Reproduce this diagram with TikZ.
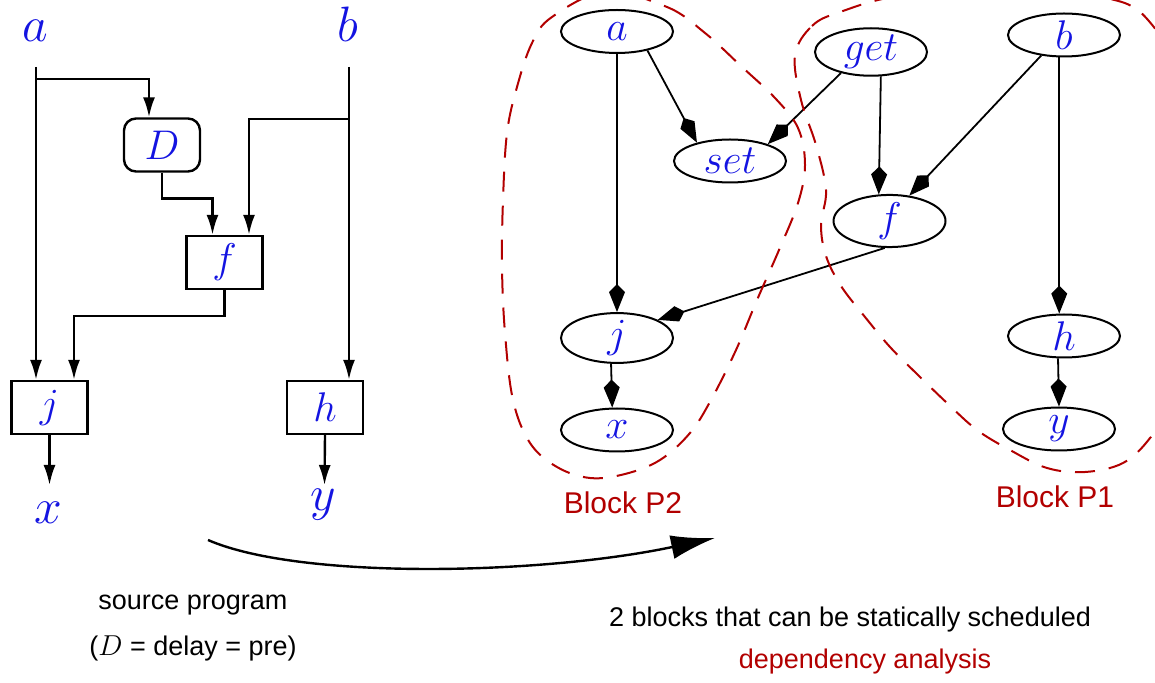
\documentclass[tikz,border=0pt]{standalone}
\usepackage{fontspec}
\newfontfamily\helv{Liberation Sans}
\usepackage{tikz}
\usetikzlibrary{arrows.meta, positioning, calc, shapes.geometric}
\definecolor{sigblue}{RGB}{20,20,225}
\definecolor{blockred}{RGB}{178,0,0}
\tikzset{
  sig/.style={text=sigblue, font=\fontsize{23}{26}\selectfont, inner sep=0pt},
  opbox/.style={draw, line width=1.2pt, minimum width=38pt, minimum height=26.5pt, inner sep=0pt, text=sigblue, font=\fontsize{21}{24}\selectfont},
  wire/.style={line width=1.2pt, -{Latex[length=10pt,width=6pt]}},
  dnode/.style={ellipse, draw, line width=1pt, minimum width=56pt, minimum height=21.5pt, inner sep=0pt, text=sigblue, font=\fontsize{21}{24}\selectfont},
  dep/.style={line width=0.9pt, -{Kite[length=14pt,width=8pt,inset=4pt]}},
  blob/.style={blockred, line width=1pt, dash pattern=on 10pt off 7pt},
  txt/.style={font=\helv\fontsize{13.5}{16}\selectfont, inner sep=0pt},
  blocklbl/.style={text=blockred, font=\helv\fontsize{15}{18}\selectfont, inner sep=0pt}
}
\begin{document}
\begin{tikzpicture}[x=0.5pt,y=-0.5pt]
\useasboundingbox (0,0) rectangle (1155,683);

% source program
\node[sig, anchor=base] (la) at (35,42) {$a$};
\node[sig, anchor=base] (lb) at (348,42) {$b$};
\coordinate (ina) at (36,67);
\coordinate (inb) at (349,67);
\coordinate (splita) at (36,79);
\coordinate (splitb) at (349,119);
\node[opbox, rounded corners=6pt] (D) at (162,145) {$D$};
\node[opbox] (f) at (224.5,262.5) {$f$};
\node[opbox] (j) at (49.5,407.5) {$j$};
\node[opbox] (h) at (325,407.5) {$h$};
\coordinate (outx) at (49.5,485);
\coordinate (outy) at (324.5,485);
\node[sig, anchor=base] (lx) at (48,523) {$x$};
\node[sig, anchor=base] (ly) at (323,510) {$y$};

\draw[wire] (ina) -- (ina |- j.north);
\draw[wire] (splita) -| ($(D.north)+(-13,0)$);
\draw[wire] (D.south) -- ++(0,26) -| ($(f.north)+(-12,0)$);
\draw[wire] (inb) -- (inb |- h.north);
\draw[wire] (splitb) -| ($(f.north)+(24.5,0)$);
\draw[wire] (f.south) -- ++(0,26) -| ($(j.north)+(24.5,0)$);
\draw[wire] (j.south) -- (outx);
\draw[wire] (h.south) -- (outy);

% dependency graph
\foreach \n/\t/\p in {ea/a/{617,31.5}, eset/set/{730,161}, eget/get/{871,52}, eb/b/{1064,35},
    ef/f/{889.5,221}, ej/j/{617,338}, ex/x/{617,430}, eh/h/{1064,336}, ey/y/{1059,429}}
  \node[dnode] (\n) at (\p) {$\t$};

\draw[dep] (ea.south) -- (ej.north);
\draw[dep] (ea.-32) -- (eset.151);
\draw[dep] (eget.-145) -- (eset.24);
\draw[dep] (eget.-68) -- (ef.112);
\draw[dep] (eb.-138) -- (ef.52);
\draw[dep] (eb.-102) -- (eh.102);
\draw[dep] (eh.-105) -- (ey.north);
\draw[dep] (ef.-100) -- (ej.24);
\draw[dep] (ej.-103) -- (ex.102);

\draw[blob] plot[smooth cycle, tension=0.6] coordinates {
  (605,-8) (667,7) (705,33) (742,67) (775,98) (798,128) (805,165) (798,203) (779,250)
  (757,300) (736,350) (711,400) (690,433) (660,460) (625,474) (590,478) (557,467)
  (530,443) (513,400) (505,333) (502,267) (503,200) (507,133) (517,87) (532,43) (552,17)};
\draw[blob] plot[smooth cycle, tension=0.6] coordinates {
  (795,55) (812,26) (840,12) (900,-4) (1000,-8) (1100,-3) (1148,20) (1180,90) (1188,250)
  (1172,400) (1150,438) (1123,463) (1085,472) (1047,468) (1010,450) (977,430) (947,403)
  (918,375) (890,347) (865,317) (841,286) (826,256) (821,225) (826,190) (816,145) (801,100)};
\node[blocklbl] (bp2) at (623,503) {Block P2};
\node[blocklbl] (bp1) at (1055,497) {Block P1};

% transformation
\coordinate (arrs) at (208,540);
\coordinate (arre) at (715,538);
\draw[line width=1.2pt, -{Latex[length=22pt,width=12pt]}] (arrs) .. controls (300,580) and (540,575) .. (arre);

\node[txt] (src) at (193,605) {source program};
\node[txt] (srcnote) at (193,648) {($D$ = delay = pre)};
\node[txt] (res) at (850,620) {2 blocks that can be statically scheduled};
\node[txt, text=blockred] (ana) at (865,662) {dependency analysis};
\end{tikzpicture}
\end{document}
